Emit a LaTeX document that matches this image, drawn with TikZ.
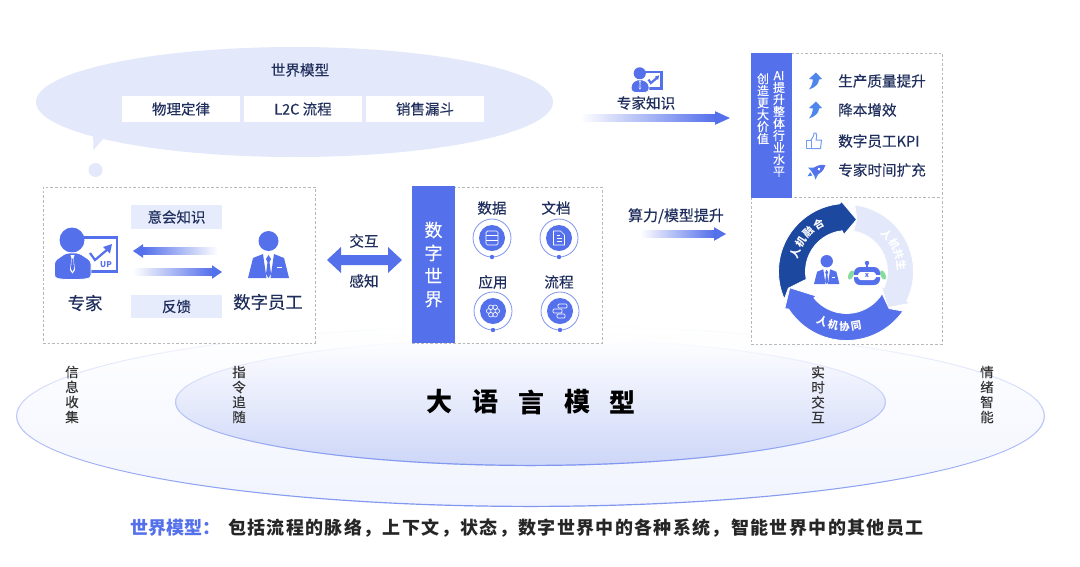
\documentclass[tikz,border=0pt]{standalone}
\usepackage{fontspec}
\setmainfont{Noto Sans CJK SC}[FakeBold=0.25,BoldFeatures={FakeBold=0}]
\usetikzlibrary{calc,shapes.geometric}
\definecolor{mainblue}{HTML}{5570EB}
\definecolor{navy}{HTML}{1F2E5C}
\definecolor{paleblue}{HTML}{E3E9FB}
\definecolor{darkblue}{HTML}{1C489F}
\definecolor{lineblue}{HTML}{7F95F0}
\definecolor{midsky}{HTML}{4F86EE}
\definecolor{innerlow}{HTML}{CDD6F8}
\definecolor{innermid}{HTML}{F0F3FD}
\definecolor{outerlow}{HTML}{F1F4FE}
\definecolor{leaf}{HTML}{86DCA0}
\tikzset{
  lbl/.style={text=navy,inner sep=0pt,font=\fontsize{14.6}{16}\selectfont},
  lblbig/.style={text=navy,inner sep=0pt,font=\fontsize{17.4}{19}\selectfont},
  vtext/.style={text=black!80,inner sep=0pt,align=center,font=\fontsize{13.5}{15}\selectfont},
  dashbox/.style={draw=black!28,fill=white,line width=0.8pt,dash pattern=on 2.6pt off 2pt},
  whitebox/.style={fill=white,inner sep=0pt,minimum height=26pt,minimum width=118pt,text=navy,font=\fontsize{14.5}{16}\selectfont},
  palebox/.style={fill=paleblue!85,inner sep=0pt,minimum width=91pt,minimum height=24pt,text=navy,font=\fontsize{14.5}{16}\selectfont},
  bluebar/.style={fill=mainblue,inner sep=0pt},
  ring/.style={draw=mainblue!75,line width=0.8pt},
  icn/.style={draw=white,line width=0.7pt},
  charw/.style={text=white,inner sep=0pt,font=\fontsize{10.5}{12}\bfseries\selectfont},
  seg/.style={draw=white,line width=0.8pt,line join=round},
}
% gradient fat arrow between two named coordinates: {from}{to}{sign}{head length}{left colour}{right colour}
\newcommand{\gradarrow}[6]{%
  \shade[left color=#5,right color=#6] ($(#1)+(0,-3.5)$) rectangle ($(#2)+(-#3*#4,3.5)$);
  \fill[mainblue] ($(#2)+(-#3*#4,-6.8)$) -- (#2) -- ($(#2)+(-#3*#4,6.8)$) -- cycle;}
\newcommand{\expert}{%
  \draw[mainblue,line width=2.5pt] (24,9.5) -- (63,9.5) -- (63,43.5) -- (30,43.5);
  \draw[mainblue,line width=2.2pt] (36,25) -- (41,32) -- (54,21);
  \fill[mainblue] (49,19) -- (58,16) -- (56,25.5) -- cycle;
  \fill[mainblue] (18,12) ellipse [x radius=12.5,y radius=12.5];
  \filldraw[mainblue,draw=white,line width=0.8pt,rounded corners=3pt] (0.5,50) -- (0.5,33) -- (12,25) -- (25,25) -- (37,33) -- (37,50) .. controls (25,52) and (12,52) .. (0.5,50) -- cycle;
  \fill[white] (16.5,27) -- (20.5,27) -- (19.5,30) -- (21,42) -- (18.5,45.5) -- (16,42) -- (17.5,30) -- cycle;
  \fill[mainblue] (17.7,30.5) -- (19.3,30.5) -- (20,41) -- (18.5,43.5) -- (17,41) -- cycle;
}
\newcommand{\staff}{%
  \fill[mainblue] (20.5,10) circle (10);
  \fill[mainblue] (0,47) -- (5,27) -- (15,23) -- (18.5,47) -- cycle;
  \fill[mainblue] (41,47) -- (36,27) -- (26,23) -- (22.5,47) -- cycle;
  \fill[mainblue] (20.5,24) -- (23,28) -- (21.5,31) -- (23,43) -- (20.5,47) -- (18,43) -- (19.5,31) -- (18,28) -- cycle;
  \fill[white] (29,35.5) rectangle (34,37);
}
\newcommand{\upicon}{%
  \fill[midsky] (1,-8.5) -- (7,-2) -- (4,-1.5) .. controls (4,3) and (0,6.5) .. (-6,8.5) .. controls (-3.5,5) and (-2,2) .. (-2,-1.5) -- (-6,-2) -- cycle;
}
\begin{document}
\begin{tikzpicture}[x=1pt,y=-1pt]
\useasboundingbox (0,0) rectangle (1080,566);
\fill[white] (0,0) rectangle (1080,566);

% ellipses
\shade[top color=white,middle color=white!60!outerlow,bottom color=outerlow] (530.5,416) ellipse [x radius=514.5,y radius=91];
\shade[top color=white,middle color=paleblue,bottom color=lineblue,even odd rule] (530.5,416) ellipse [x radius=514.5,y radius=91] (530.5,416) ellipse [x radius=513.3,y radius=89.8];
\shade[top color=white,middle color=innermid,bottom color=innerlow] (530.5,402) ellipse [x radius=355.5,y radius=64];
\shade[top color=white,middle color=paleblue,bottom color=lineblue,even odd rule] (530.5,402) ellipse [x radius=355.5,y radius=64] (530.5,402) ellipse [x radius=354.3,y radius=62.8];

% speech bubble
\fill[paleblue] (294.5,102) ellipse [x radius=258.5,y radius=55];
\fill[paleblue] (93,130) -- (93.5,150) -- (104,138) -- cycle;
\fill[paleblue] (95.5,170) circle (7);
\node[lbl] (wm) at (300,70) {世界模型};
\node[whitebox] (b1) at (181,109) {物理定律};
\node[whitebox] (b2) at (303,109) {L2C 流程};
\node[whitebox] (b3) at (425,109) {销售漏斗};

% left dashed box
\node[dashbox,minimum width=272pt,minimum height=156pt,inner sep=0pt] (leftbox) at (179,265) {};
\node[palebox] (yh) at (176.5,217) {意会知识};
\node[palebox,minimum height=23pt] (fk) at (176.5,306.5) {反馈};
\begin{scope}[shift={(54,228)}]\expert\node[text=mainblue,inner sep=0pt,font=\fontsize{8}{9}\bfseries\selectfont] (upa) at (52,36.5) {UP};\end{scope}
\begin{scope}[shift={(248,231)}]\staff\end{scope}
\node[lblbig] (zj) at (85,303) {专家};
\node[lblbig] (szyg) at (268,302) {数字员工};
\coordinate (a1s) at (218,251); \coordinate (a1e) at (133,251);
\coordinate (a2s) at (133,272); \coordinate (a2e) at (222,272);
\gradarrow{a1s}{a1e}{-1}{10}{mainblue}{white}
\gradarrow{a2s}{a2e}{1}{10}{white}{mainblue}

% interaction double arrow
\coordinate (dl) at (327,260); \coordinate (dr) at (402,260);
\fill[mainblue] (dl) -- ($(dl)+(14,-13)$) -- ($(dl)+(14,-5)$) -- ($(dr)+(-14,-5)$) -- ($(dr)+(-14,-13)$) -- (dr) -- ($(dr)+(-14,13)$) -- ($(dr)+(-14,5)$) -- ($(dl)+(14,5)$) -- ($(dl)+(14,13)$) -- cycle;
\node[lbl] (jh) at (364,241) {交互};
\node[lbl] (gz) at (364,281) {感知};

% digital world
\node[dashbox,minimum width=190pt,minimum height=156pt,inner sep=0pt] (digbox) at (507,265) {};
\node[bluebar,minimum width=43pt,minimum height=157pt,text=white,align=center,font=\fontsize{18}{23}\selectfont] (szsj) at (433.5,264.5) {数\\字\\世\\界};
\node[lbl] (sj) at (492,208) {数据};
\node[lbl] (wd) at (556,208) {文档};
\node[lbl] (yy) at (493,282) {应用};
\node[lbl] (lc) at (559,282) {流程};
\foreach \cx/\cy in {492/238,559/238,493/311,560/311}{
  \draw[ring] (\cx,\cy) circle (19);
  \fill[mainblue] (\cx,\cy) circle (13);
  \fill[mainblue] (\cx,\cy+19) circle (2.2);
}
\begin{scope}[shift={(492,238)}]
  \draw[icn,rounded corners=1.5pt] (-6,-7) rectangle (6,7);
  \draw[icn] (-6,-2.4) -- (6,-2.4) (-6,2.4) -- (6,2.4);
\end{scope}
\begin{scope}[shift={(559,238)}]
  \draw[icn] (-5.5,-7) -- (1.5,-7) -- (5.5,-3) -- (5.5,7) -- (-5.5,7) -- cycle;
  \draw[icn] (-2.5,-2.5) -- (0.5,-2.5) (-2.5,0.5) -- (2.5,0.5) (-2.5,3.5) -- (2.5,3.5);
\end{scope}
\begin{scope}[shift={(493,311)}]
  \foreach \a in {0,60,...,300}{\draw[icn,line width=0.6pt] (\a:4.3) circle (2.3);}
\end{scope}
\begin{scope}[shift={(560,311)}]
  \draw[icn,rounded corners=1pt] (-2,-7) rectangle (7,-3);
  \draw[icn,rounded corners=1pt] (-7,-2) rectangle (2,2);
  \draw[icn,rounded corners=1pt] (-3,3) rectangle (5,7);
\end{scope}

% right top
\begin{scope}[shift={(631,67.5)},scale=0.485]\expert\end{scope}
\node[lbl] (zjzs) at (646,103) {专家知识};
\coordinate (a3s) at (580,118); \coordinate (a3e) at (730,118);
\gradarrow{a3s}{a3e}{1}{15}{white}{mainblue}
\node[lbl,font=\fontsize{15}{17}\selectfont] (sl) at (676,216) {算力/模型提升};
\coordinate (a4s) at (640,234); \coordinate (a4e) at (726,234);
\gradarrow{a4s}{a4e}{1}{12}{white}{mainblue}

\node[dashbox,minimum width=191pt,minimum height=144pt,inner sep=0pt] (valbox) at (846.5,125) {};
\node[bluebar,minimum width=41pt,minimum height=144pt] (valbar) at (771.5,125) {};
\node[text=white,inner sep=0pt,anchor=north,align=center,font=\fontsize{12}{12}\selectfont] (v1) at (763,73) {创\\造\\更\\大\\价\\值};
\node[text=white,inner sep=0pt,anchor=north,align=center,font=\fontsize{12}{12}\selectfont] (v2) at (779,71) {AI\\提\\升\\整\\体\\行\\业\\水\\平};
\node[lbl,anchor=west] (i1) at (838,81) {生产质量提升};
\node[lbl,anchor=west] (i2) at (838,110) {降本增效};
\node[lbl,anchor=west] (i3) at (838,141) {数字员工KPI};
\node[lbl,anchor=west] (i4) at (838,170) {专家时间扩充};
\begin{scope}[shift={(815,81)}]\upicon\end{scope}
\begin{scope}[shift={(815,110)}]\upicon\end{scope}
\begin{scope}[shift={(814,141)}]
  \draw[midsky!80,line width=1pt,line join=round] (-7.5,-1) rectangle (-3,7.5);
  \draw[midsky!80,line width=1pt,line join=round] (-3,-1) -- (-0.5,-5) -- (0,-8) -- (2,-8) .. controls (3,-6) and (3,-4) .. (2,-1) -- (7.5,-1) -- (6.5,7.5) -- (-3,7.5);
\end{scope}
\begin{scope}[shift={(816,171)},rotate=-58]
  \fill[mainblue] (0,-11) .. controls (4,-7) and (4.5,-2) .. (3.5,4) -- (-3.5,4) .. controls (-4.5,-2) and (-4,-7) .. (0,-11) -- cycle;
  \fill[midsky] (-3.5,-1) -- (-7,5) -- (-3,4) -- cycle (3.5,-1) -- (7,5) -- (3,4) -- cycle;
  \fill[midsky] (-2,5.5) -- (2,5.5) -- (0,10) -- cycle;
  \fill[white] (0,-3.5) circle (1.5);
\end{scope}

% cycle
\node[dashbox,minimum width=191pt,minimum height=147pt,inner sep=0pt] (cycbox) at (846.5,270.5) {};
\fill[mainblue] (751,186) rectangle (792,197.5);
\begin{scope}[shift={(846.5,271.5)},yscale=-1]
  % pale
  \filldraw[fill=paleblue,seg] (83:67) arc[start angle=83,end angle=-26,radius=67] -- (-26.6:71) -- (-41:55) -- (-23:38) -- (-23:41) arc[start angle=-23,end angle=80,radius=41] -- (79:54) -- cycle;
  % blue
  \filldraw[fill=mainblue,seg] (-35:69) arc[start angle=-35,end angle=-147,radius=69] -- (211:72) -- (196:59) -- (219:39) -- (219:42) arc[start angle=219,end angle=328,radius=42] -- (-41:56.5) -- cycle;
  % dark
  \filldraw[fill=darkblue,seg] (204:68) arc[start angle=204,end angle=96,radius=68] -- (94:70) -- (79:53) -- (94:37) -- (96:41) arc[start angle=96,end angle=191,radius=41] -- (196:60.5) -- cycle;
  \foreach \t/\a in {人/160,机/147,融/134,合/121}{
    \node[charw,rotate=\a-90] (d\a) at (\a:54.5) {\t};}
  \foreach \t/\a in {人/42,机/30,共/18,生/6}{
    \node[charw,text=white,rotate=\a-90] (p\a) at (\a:55) {\t};}
  \foreach \t/\a in {人/244,机/256,协/268,同/280}{
    \node[charw,rotate=\a+90] (b\a) at (\a:55) {\t};}
\end{scope}
\begin{scope}[shift={(814,255)},scale=0.62]\staff\end{scope}
\begin{scope}[shift={(867,276)}]
  \fill[leaf,shift={(-16,-1)},rotate=-25] (0,0) ellipse [x radius=2.6,y radius=5];
  \fill[leaf,shift={(16,-1)},rotate=25] (0,0) ellipse [x radius=2.6,y radius=5];
  \fill[mainblue] (0,-13) circle (2.2);
  \draw[mainblue,line width=1.4pt] (0,-12) -- (0,-8);
  \fill[mainblue,rounded corners=6pt] (-13,-9) rectangle (13,9);
  \fill[white,rounded corners=3pt] (-9,-4) rectangle (9,4);
  \fill[white] (-13.5,-1) rectangle (-8,1) (8,-1) rectangle (13.5,1);
  \node[text=mainblue,inner sep=0pt,font=\fontsize{7}{8}\bfseries\selectfont] (rx) at (0,0) {x};
\end{scope}

% bottom labels
\node[vtext] (v3) at (72,394.5) {信\\息\\收\\集};
\node[vtext] (v4) at (239,394.5) {指\\令\\追\\随};
\node[vtext] (v5) at (818,394.5) {实\\时\\交\\互};
\node[vtext] (v6) at (987,394.5) {情\\绪\\智\\能};
\foreach \t/\x in {大/439,语/485,言/531,模/577,型/622}{
  \node[inner sep=0pt,text=black,font=\fontsize{26}{28}\bfseries\selectfont] (m\x) at (\x,402) {\t};}
\node[inner sep=0pt,anchor=west,text=mainblue,font=\fontsize{18}{20}\bfseries\selectfont] (wmt) at (130,528) {世界模型：};
\node[inner sep=0pt,anchor=west,text=black!85,font=\fontsize{18}{20}\bfseries\addfontfeature{LetterSpace=7.5}\selectfont] (wmd) at (228,528) {包括流程的脉络，上下文，状态，数字世界中的各种系统，智能世界中的其他员工};
\end{tikzpicture}
\end{document}
